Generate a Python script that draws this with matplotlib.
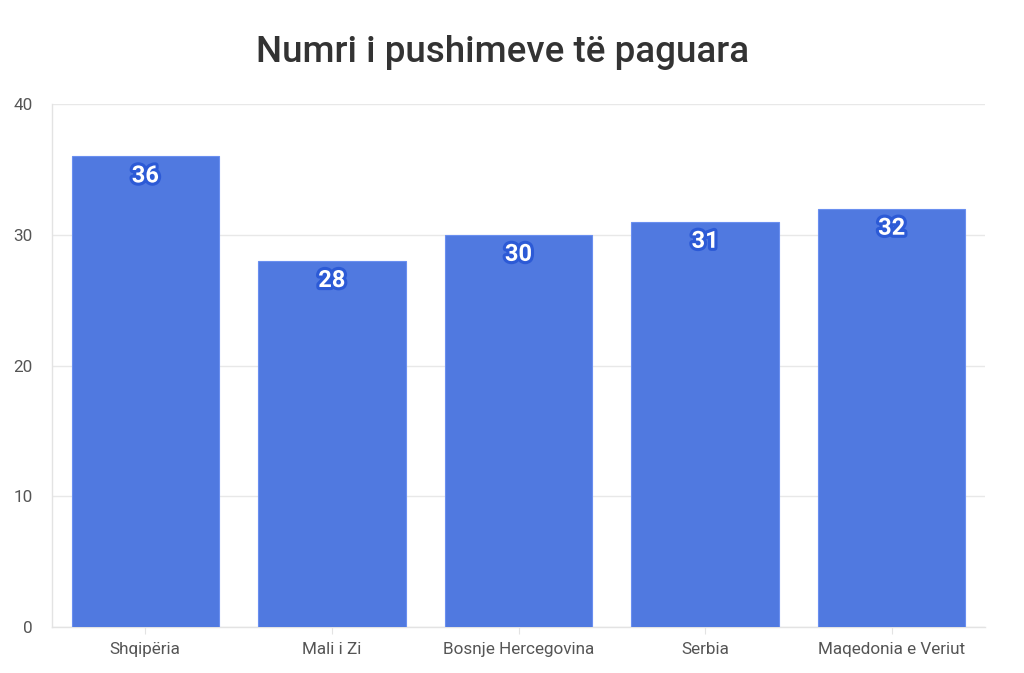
import matplotlib
matplotlib.use('Agg')
import matplotlib.pyplot as plt
import matplotlib.patheffects as pe
import numpy as np

# dados do grafico
vendet = ['Shqipëria', 'Mali i Zi', 'Bosnje Hercegovina', 'Serbia', 'Maqedonia e Veriut']
pushime = [36, 28, 30, 31, 32]
yticks = [0, 10, 20, 30, 40]

plt.rcParams['font.family'] = ['Roboto', 'DejaVu Sans']

fig = plt.figure(figsize=(10.24, 6.73), dpi=100)
ax = fig.add_axes([52 / 1024, 1 - 627 / 673, 933 / 1024, 523 / 673])

x = np.arange(len(vendet))
ax.bar(x, pushime, width=0.79, color='#5079e0', edgecolor='#6a8ff0', linewidth=0.8, zorder=3)

for xi, v in zip(x, pushime):
    ax.text(xi, v - 1.5, str(v), ha='center', va='center', fontsize=17, fontweight='bold',
            color='white', zorder=4,
            path_effects=[pe.withStroke(linewidth=4.5, foreground='#2c5ad6')])

ax.set_xlim(-0.5, len(vendet) - 0.5)
ax.set_ylim(0, 40)
ax.set_yticks(yticks)
ax.set_xticks(x)
ax.set_xticklabels(vendet)
ax.grid(axis='y', color='#e8e8e8', linewidth=1, zorder=0)
for s in ['top', 'right']:
    ax.spines[s].set_visible(False)
for s in ['left', 'bottom']:
    ax.spines[s].set_color('#e3e3e3')
    ax.spines[s].set_linewidth(1)
ax.tick_params(axis='y', length=0, pad=14, labelsize=12.3, labelcolor='#555555')
ax.tick_params(axis='x', length=5, color='#e3e3e3', pad=6, labelsize=12.3, labelcolor='#555555')

fig.text(503 / 1024, 1 - 52 / 673, 'Numri i pushimeve të paguara', ha='center', va='center',
         fontsize=26.5, fontweight='medium', color='#333333')

fig.savefig('out.png', dpi=100)
